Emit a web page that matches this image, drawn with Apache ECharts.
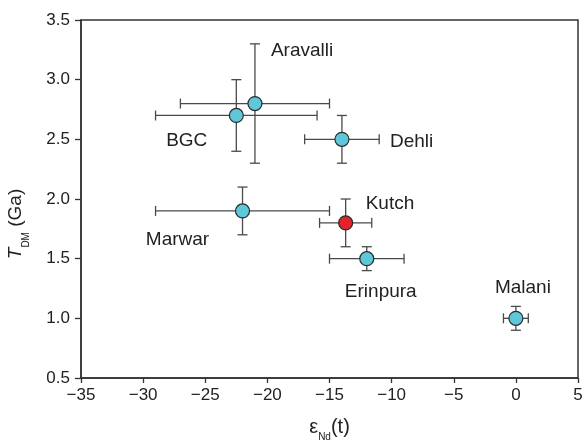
<!DOCTYPE html>
<html>
<head>
<meta charset="utf-8">
<script src="https://cdn.jsdelivr.net/npm/echarts@6/dist/echarts.min.js"></script>
<style>
  html, body { margin: 0; padding: 0; background: #fff; }
  #chart { width: 585px; height: 444px; }
</style>
</head>
<body>
<div id="chart"></div>
<script>
// sample groups and their values
const names = ['Aravalli', 'BGC', 'Dehli', 'Kutch', 'Marwar', 'Erinpura', 'Malani']
const epsNd = [-21, -22.5, -14, -13.7, -22, -12, 0]
const epsErr = [6, 6.5, 3, 2.1, 7, 3, 1]
const tdm = [2.8, 2.7, 2.5, 1.8, 1.9, 1.5, 1.0]
const tdmErr = [0.5, 0.3, 0.2, 0.2, 0.2, 0.1, 0.1]
const xTicks = [-35, 5, 5]   // min, max, interval
const yTicks = [0.5, 3.5, 0.5]

const cyan = '#5ec8da'
const red = '#e3222b'
const ink = '#333'
const font = 'Liberation Sans, Arial, sans-serif'

// label placement per sample (align, dx, dy)
const labelPos = {
  Aravalli: ['left', 16, -53],
  BGC: ['right', -29, 25],
  Dehli: ['left', 48, 2],
  Kutch: ['left', 20, -19],
  Marwar: ['center', -65, 29],
  Erinpura: ['center', 14, 33],
  Malani: ['center', 7, -31]
}

const pts = names.map(function (n, i) {
  const lp = labelPos[n]
  return {
    name: n,
    value: [epsNd[i], tdm[i]],
    itemStyle: { color: n === 'Kutch' ? red : cyan },
    label: { align: lp[0], offset: [lp[1], lp[2]] }
  }
})
const bars = names.map(function (n, i) {
  return [epsNd[i], tdm[i], epsErr[i], tdmErr[i]]
})

const chart = echarts.init(document.getElementById('chart'))
const cap = 5
const lineStyle = { stroke: '#4a4a4a', lineWidth: 1.3 }

function renderBar (params, api) {
  const x = api.value(0)
  const y = api.value(1)
  const ex = api.value(2)
  const ey = api.value(3)
  const l = api.coord([x - ex, y])
  const r = api.coord([x + ex, y])
  const t = api.coord([x, y + ey])
  const b = api.coord([x, y - ey])
  const seg = function (x1, y1, x2, y2) {
    return { type: 'line', shape: { x1: x1, y1: y1, x2: x2, y2: y2 }, style: lineStyle }
  }
  return {
    type: 'group',
    children: [
      seg(l[0], l[1], r[0], r[1]),
      seg(t[0], t[1], b[0], b[1]),
      seg(l[0], l[1] - cap, l[0], l[1] + cap),
      seg(r[0], r[1] - cap, r[0], r[1] + cap),
      seg(t[0] - cap, t[1], t[0] + cap, t[1]),
      seg(b[0] - cap, b[1], b[0] + cap, b[1])
    ]
  }
}

const option = {
  animation: false,
  textStyle: { fontFamily: font },
  grid: {
    left: 81,
    right: 7,
    top: 20,
    bottom: 66,
    outerBoundsMode: 'none',
    show: true,
    borderColor: ink,
    borderWidth: 1.5
  },
  xAxis: {
    type: 'value',
    min: xTicks[0],
    max: xTicks[1],
    interval: xTicks[2],
    splitLine: { show: false },
    axisLine: { onZero: false, lineStyle: { color: ink, width: 1.5 } },
    axisTick: { length: 5, lineStyle: { color: ink, width: 1.3 } },
    axisLabel: {
      margin: 9,
      fontSize: 17,
      color: '#222',
      fontFamily: font,
      formatter: function (v) { return v < 0 ? '\u2212' + Math.abs(v) : String(v) }
    },
    name: '{e|\u03b5}{s|Nd}{e|(t)}',
    nameLocation: 'middle',
    nameGap: 38,
    nameTextStyle: {
      rich: {
        e: { fontSize: 20, color: '#222', fontFamily: font, lineHeight: 22 },
        s: { fontSize: 10, color: '#222', fontFamily: font, verticalAlign: 'bottom', lineHeight: 22, padding: [0, 0, -4, 0] }
      }
    }
  },
  yAxis: {
    type: 'value',
    min: yTicks[0],
    max: yTicks[1],
    interval: yTicks[2],
    splitLine: { show: false },
    axisLine: { onZero: false, lineStyle: { color: ink, width: 1.5 } },
    axisTick: { length: 6, lineStyle: { color: ink, width: 1.3 } },
    axisLabel: {
      margin: 11,
      fontSize: 17,
      color: '#222',
      fontFamily: font,
      formatter: function (v) { return v.toFixed(1) }
    },
    name: '{t|T}{s|DM}{n| (Ga)}',
    nameLocation: 'middle',
    nameGap: 54,
    nameTextStyle: {
      padding: [0, 50, 0, 0],
      rich: {
        t: { fontSize: 19, fontStyle: 'italic', color: '#222', fontFamily: font, lineHeight: 22 },
        s: { fontSize: 10, color: '#222', fontFamily: font, verticalAlign: 'bottom', lineHeight: 22, padding: [0, 0, -4, 0] },
        n: { fontSize: 19, color: '#222', fontFamily: font, lineHeight: 22 }
      }
    }
  },
  series: [
    {
      type: 'custom',
      renderItem: renderBar,
      data: bars,
      z: 1,
      silent: true
    },
    {
      type: 'scatter',
      data: pts,
      symbolSize: 14,
      z: 3,
      itemStyle: { borderColor: '#2a2a2a', borderWidth: 1.2, opacity: 1 },
      label: {
        show: true,
        position: 'inside',
        formatter: '{b}',
        fontSize: 19,
        color: '#222',
        fontFamily: font,
        verticalAlign: 'middle'
      }
    }
  ]
}
chart.setOption(option)
</script>
</body>
</html>
